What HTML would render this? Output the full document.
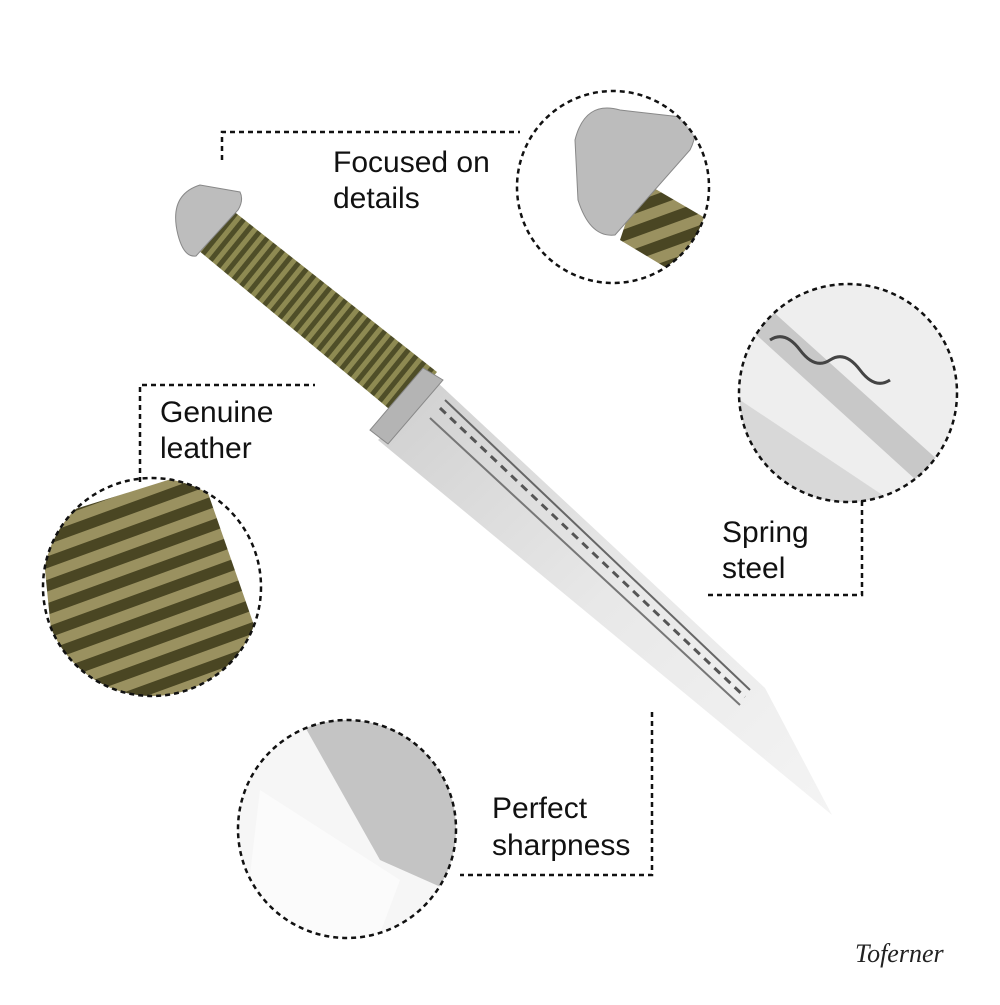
<!DOCTYPE html>
<html><head><style>
body{margin:0;background:#fff}
.t{font-family:"Liberation Sans",sans-serif;font-size:30px;fill:#111}
</style></head><body>
<svg width="1000" height="1000" viewBox="0 0 1000 1000" xmlns="http://www.w3.org/2000/svg">
<defs>
<pattern id="cord" width="10" height="10" patternUnits="userSpaceOnUse" patternTransform="rotate(-51)">
<rect width="10" height="10" fill="#4f4e28"/><rect width="10" height="5" fill="#8e8a52"/>
</pattern>
<pattern id="cord2" width="22" height="22" patternUnits="userSpaceOnUse" patternTransform="rotate(-20)">
<rect width="22" height="22" fill="#4a4623"/><rect width="22" height="11" fill="#9a9160"/>
</pattern>
<linearGradient id="bl" x1="0" y1="0" x2="1" y2="1">
<stop offset="0" stop-color="#cfcfcf"/><stop offset="0.5" stop-color="#e8e8e8"/><stop offset="1" stop-color="#f4f4f4"/>
</linearGradient>
<clipPath id="c1"><circle cx="613" cy="187" r="96"/></clipPath>
<clipPath id="c2"><circle cx="848" cy="393" r="109"/></clipPath>
<clipPath id="c3"><circle cx="152" cy="587" r="109"/></clipPath>
<clipPath id="c4"><circle cx="347" cy="829" r="109"/></clipPath>
</defs>

<polygon points="437,382 765,688 832,815 378,440" fill="url(#bl)"/>
<polyline points="445,400 750,690" stroke="#666" stroke-width="2" fill="none"/>
<polyline points="430,418 740,705" stroke="#777" stroke-width="2" fill="none"/>
<polyline points="440,408 745,697" stroke="#555" stroke-width="3" stroke-dasharray="8 6" fill="none"/>
<polygon points="232,210 437,372 400,418 198,250" fill="url(#cord)"/>
<polygon points="443,380 423,368 370,430 388,444" fill="#b4b4b4" stroke="#888"/>
<path d="M178,235 Q168,195 200,185 L240,192 Q244,200 238,210 L196,256 Q184,258 178,235Z" fill="#bdbdbd" stroke="#888"/>

<g clip-path="url(#c1)"><rect x="500" y="80" width="230" height="220" fill="#fff"/>
<polygon points="640,180 760,250 720,300 620,240" fill="url(#cord2)"/>
<path d="M575,140 Q585,100 620,110 L690,118 Q700,130 690,150 L615,235 Q590,238 578,200Z" fill="#bcbcbc" stroke="#888"/></g>
<circle cx="613" cy="187" r="96" fill="none" stroke="#111" stroke-width="2.5" stroke-dasharray="5 4"/>

<g clip-path="url(#c2)"><rect x="730" y="280" width="240" height="230" fill="#eee"/>
<polygon points="760,300 960,480 960,520 740,320" fill="#c8c8c8"/>
<polygon points="740,400 920,520 740,520" fill="#d8d8d8"/>
<path d="M770,340 q15,-10 30,10 q15,20 30,10 q15,-10 30,10 q15,20 30,10" stroke="#444" stroke-width="3" fill="none"/></g>
<circle cx="848" cy="393" r="109" fill="none" stroke="#111" stroke-width="2.5" stroke-dasharray="5 4"/>

<g clip-path="url(#c3)"><rect x="40" y="475" width="230" height="230" fill="#fff"/>
<polygon points="40,520 200,470 280,700 60,720" fill="url(#cord2)"/></g>
<circle cx="152" cy="587" r="109" fill="none" stroke="#111" stroke-width="2.5" stroke-dasharray="5 4"/>

<g clip-path="url(#c4)"><rect x="235" y="718" width="230" height="230" fill="#f6f6f6"/>
<polygon points="300,718 470,718 470,900 380,860" fill="#c4c4c4"/>
<polygon points="260,790 400,880 370,960 240,960" fill="#fbfbfb"/></g>
<circle cx="347" cy="829" r="109" fill="none" stroke="#111" stroke-width="2.5" stroke-dasharray="5 4"/>

<g stroke="#111" stroke-width="2.5" stroke-dasharray="5 4" fill="none">
<polyline points="222,160 222,132 520,132"/>
<polyline points="140,482 140,385 315,385"/>
<polyline points="708,595 862,595 862,500"/>
<polyline points="652,712 652,875 460,875"/>
</g>

<text class="t" x="333" y="172">Focused on</text>
<text class="t" x="333" y="208">details</text>
<text class="t" x="160" y="422">Genuine</text>
<text class="t" x="160" y="458">leather</text>
<text class="t" x="722" y="542">Spring</text>
<text class="t" x="722" y="578">steel</text>
<text class="t" x="492" y="818">Perfect</text>
<text class="t" x="492" y="855">sharpness</text>
<text x="855" y="962" font-family="Liberation Serif,serif" font-style="italic" font-size="26" fill="#222">Toferner</text>
</svg>
</body></html>
